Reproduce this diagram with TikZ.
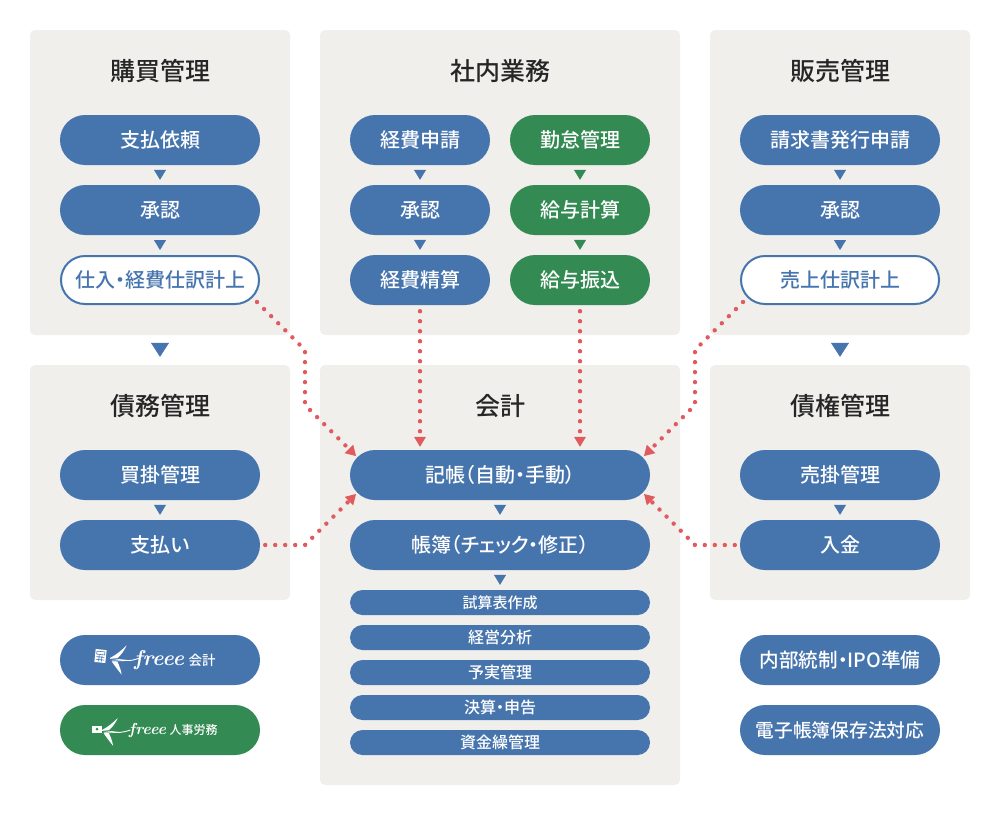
\documentclass[tikz,border=0pt]{standalone}
\usepackage{fontspec}
\usetikzlibrary{arrows.meta,shapes.misc}
\newfontfamily\cjk[RawFeature=+palt]{Noto Sans CJK JP Medium}

\definecolor{flowblue}{HTML}{4674AD}
\definecolor{flowgreen}{HTML}{338A52}
\definecolor{panelgray}{HTML}{F0EFEC}
\definecolor{linkred}{HTML}{E05A5E}

\tikzset{
    panel/.style={fill=panelgray, rounded corners=5pt, inner sep=0pt},
    paneltitle/.style={font=\cjk\fontsize{25}{25}\selectfont, text=black!85},
    pill/.style={rounded rectangle, fill=flowblue, text=white, inner sep=0pt,
        minimum width=200pt, minimum height=50pt, font=\cjk\fontsize{20}{20}\selectfont},
    shortpill/.style={pill, minimum width=140pt},
    greenpill/.style={shortpill, fill=flowgreen},
    outlinepill/.style={pill, fill=white, draw=flowblue, line width=2pt, text=flowblue,
        minimum width=198pt, minimum height=48pt},
    snugpill/.style={pill, font=\cjk\fontsize{18.7}{18.7}\selectfont},
    widepill/.style={pill, minimum width=300pt},
    thinpill/.style={widepill, minimum height=25pt, font=\cjk\fontsize{16}{16}\selectfont},
    steparrow/.style={draw=#1, -{Triangle[length=10pt,width=12pt]}, shorten <=5pt, shorten >=5pt},
    stagearrow/.style={draw=flowblue, -{Triangle[length=14pt,width=18pt]}, shorten <=8pt, shorten >=8pt},
    linkarrow/.style={draw=linkred, line width=4.4pt, line cap=round, dash pattern=on 0pt off 10pt,
        -{Triangle[length=10pt,width=12pt,line cap=butt,line width=0pt]}},
    logotext/.style={text=white, inner sep=0pt},
}

% bird of the logo, #1 = position, #2 = size
\newcommand{\logobird}[2]{
    \begin{scope}[shift={#1}, scale=#2]
        \fill[white] (0,0) .. controls (6,-3) and (12,-8) .. (16.7,-12.7)
            .. controls (14,-7) and (11,-3) .. (7.5,0) -- cycle;
        \fill[white] (1.7,3.3) -- (7.3,3.3) .. controls (9,7) and (11,12) .. (11.7,16.7)
            .. controls (8,12) and (4,7) .. (1.7,3.3) -- cycle;
        \draw[white, line width=0.7pt] (0,0.5) -- (19,2.5) (2,3) -- (19,2.5);
        \draw[white, line width=0.9pt] (19,2.5) .. controls (23,2.5) and (26,1) .. (30,0);
    \end{scope}
}

\begin{document}
\begin{tikzpicture}[x=1pt, y=-1pt]
    \useasboundingbox (0,0) rectangle (1000,815);

    % panels
    \node[panel, minimum width=260pt, minimum height=305pt] (purchase) at (160,182.5) {};
    \node[panel, minimum width=360pt, minimum height=305pt] (office) at (500,182.5) {};
    \node[panel, minimum width=260pt, minimum height=305pt] (sales) at (840,182.5) {};
    \node[panel, minimum width=260pt, minimum height=235pt] (payable) at (160,482.5) {};
    \node[panel, minimum width=360pt, minimum height=420pt] (account) at (500,575) {};
    \node[panel, minimum width=260pt, minimum height=235pt] (receivable) at (840,482.5) {};

    \node[paneltitle] (purchasetitle) at (160,71) {購買管理};
    \node[paneltitle] (officetitle) at (500,71) {社内業務};
    \node[paneltitle] (salestitle) at (840,71) {販売管理};
    \node[paneltitle] (payabletitle) at (160,406) {債務管理};
    \node[paneltitle] (accounttitle) at (500,406) {会計};
    \node[paneltitle] (receivabletitle) at (840,406) {債権管理};

    % left column
    \node[pill] (request) at (160,140) {支払依頼};
    \node[pill] (approveleft) at (160,210) {承認};
    \node[outlinepill] (purchasejournal) at (160,280) {仕入・経費仕訳計上};
    \node[pill] (payablemgmt) at (160,475) {買掛管理};
    \node[pill] (payment) at (160,545) {支払い};

    % middle column
    \node[shortpill] (expense) at (420,140) {経費申請};
    \node[shortpill] (approvemid) at (420,210) {承認};
    \node[shortpill] (settle) at (420,280) {経費精算};
    \node[greenpill] (attendance) at (580,140) {勤怠管理};
    \node[greenpill] (payroll) at (580,210) {給与計算};
    \node[greenpill] (transfer) at (580,280) {給与振込};

    % right column
    \node[pill] (invoice) at (840,140) {請求書発行申請};
    \node[pill] (approveright) at (840,210) {承認};
    \node[outlinepill] (salesjournal) at (840,280) {売上仕訳計上};
    \node[pill] (receivablemgmt) at (840,475) {売掛管理};
    \node[pill] (deposit) at (840,545) {入金};

    % accounting
    \node[widepill] (entry) at (500,475) {記帳（自動・手動）};
    \node[widepill] (ledger) at (500,545) {帳簿（チェック・修正）};
    \node[thinpill, font=\cjk\fontsize{15}{15}\selectfont] (trial) at (500,602.5) {試算表作成};
    \node[thinpill] (analysis) at (500,637.5) {経営分析};
    \node[thinpill] (budget) at (500,672.5) {予実管理};
    \node[thinpill] (closing) at (500,707.5) {決算・申告};
    \node[thinpill] (cash) at (500,742.5) {資金繰管理};

    % bottom pills
    \node[pill] (logoaccount) at (160,660) {};
    \node[pill, fill=flowgreen] (logohr) at (160,730) {};
    \node[snugpill, font=\cjk\fontsize{19.6}{19.6}\selectfont] (control) at (840,660) {内部統制・IPO準備};
    \node[snugpill] (storage) at (840,730) {電子帳簿保存法対応};

    % logos
    \logobird{(110,658)}{1}
    \fill[white, rotate around={-6:(100.5,656)}] (95,649.5) rectangle (106,662.5);
    \draw[flowblue, line width=0.6pt, rotate around={-6:(100.5,656)}] (96.5,651.5) rectangle (104.5,654.5)
        (96.5,657) -- (104.5,657) (96.5,659.7) -- (104.5,659.7) (99.2,655.5) -- (99.2,661.5) (101.9,655.5) -- (101.9,661.5);
    \node[logotext, font=\bfseries\itshape\fontsize{21.5}{21.5}\selectfont] (freeeaccount) at (159,660) {freee};
    \node[logotext, font=\cjk\fontsize{13.5}{13.5}\selectfont] (logoaccounttext) at (202,660) {会計};
    \logobird{(102,730)}{0.95}
    \fill[white] (92,725.5) rectangle (102,733);
    \fill[flowgreen] (97,729.2) circle (1.5pt);
    \node[logotext, font=\bfseries\itshape\fontsize{16}{16}\selectfont] (freeehr) at (147.5,730) {freee};
    \node[logotext, font=\cjk\fontsize{12}{12}\selectfont] (logohrtext) at (193.5,730) {人事労務};

    % small arrows
    \foreach \from/\to/\col in {request/approveleft/flowblue, approveleft/purchasejournal/flowblue,
        expense/approvemid/flowblue, approvemid/settle/flowblue,
        attendance/payroll/flowgreen, payroll/transfer/flowgreen,
        invoice/approveright/flowblue, approveright/salesjournal/flowblue,
        payablemgmt/payment/flowblue, receivablemgmt/deposit/flowblue,
        entry/ledger/flowblue, ledger/trial/flowblue}
        \draw[steparrow=\col] (\from) -- (\to);

    % arrows between panels
    \draw[stagearrow] (purchase) -- (payable);
    \draw[stagearrow] (sales) -- (receivable);

    % links to the journal entry
    \coordinate (leftupper) at (305,350);
    \coordinate (leftlower) at (305,405);
    \coordinate (leftpay) at (305,545);
    \coordinate (rightupper) at (695,350);
    \coordinate (rightlower) at (695,405);
    \coordinate (rightpay) at (695,545);

    \draw[linkarrow] ([shift={(97,22)}]purchasejournal.center) -- (leftupper) -- (leftlower) -- ([shift={(-144,-19)}]entry.center);
    \draw[linkarrow, shorten <=5pt] (payment.east) -- (leftpay) -- ([shift={(-144,19)}]entry.center);
    \draw[linkarrow] ([shift={(-97,22)}]salesjournal.center) -- (rightupper) -- (rightlower) -- ([shift={(144,-19)}]entry.center);
    \draw[linkarrow, shorten <=5pt] (deposit.west) -- (rightpay) -- ([shift={(144,19)}]entry.center);
    \draw[linkarrow, shorten <=6pt, shorten >=3pt] (settle.south) -- (settle.south |- entry.north);
    \draw[linkarrow, shorten <=6pt, shorten >=3pt] (transfer.south) -- (transfer.south |- entry.north);
\end{tikzpicture}
\end{document}
